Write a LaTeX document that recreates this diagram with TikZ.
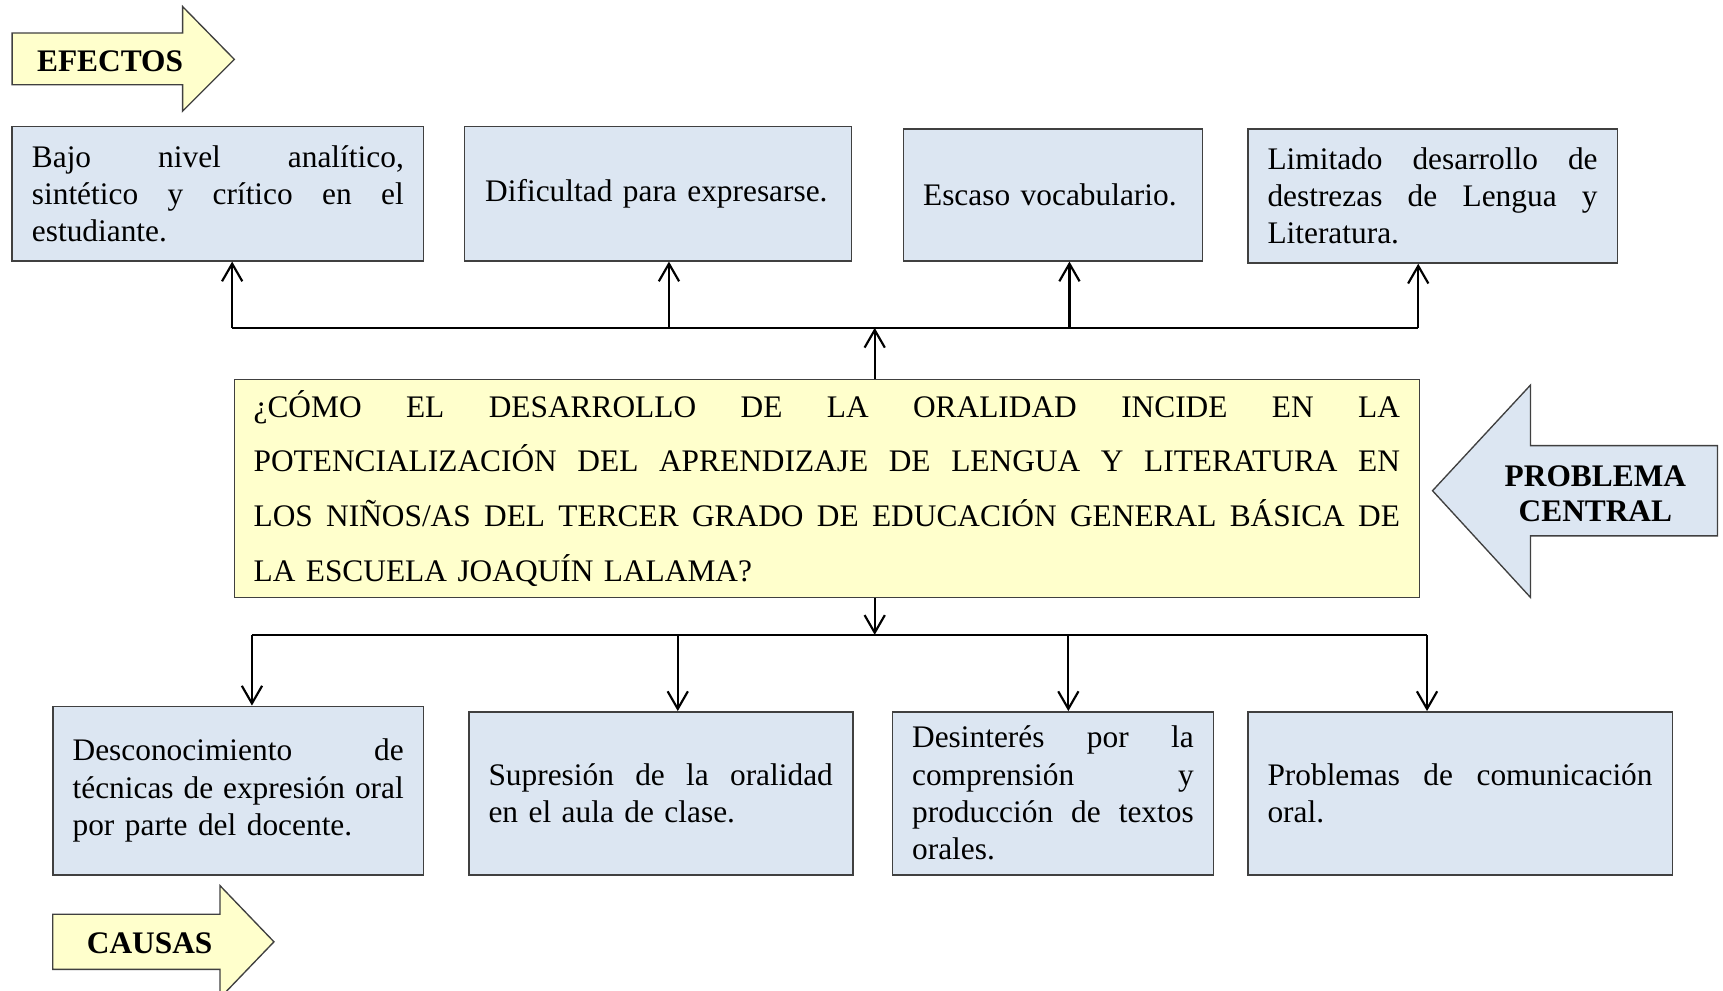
\documentclass[tikz,border=0pt]{standalone}
\usepackage{fontspec}
\setmainfont{Liberation Serif}
\usetikzlibrary{arrows.meta}
\definecolor{boxblue}{HTML}{DCE6F2}
\definecolor{boxyellow}{HTML}{FFFFCC}
\definecolor{edgecol}{HTML}{404040}
\newlength\pxu
\setlength\pxu{0.0143cm}
\newcommand\jl[1]{\hbox to\hsize{\frenchspacing\spaceskip=0.25em plus 1fil minus 0.05em\relax #1}}
\newcommand\lft[1]{\hbox to\hsize{\frenchspacing #1\hfil}}
\newcommand\lines[1]{\vbox{#1}}
\begin{document}
\begin{tikzpicture}[x=0.0143cm, y=-0.0143cm,
  box/.style={draw=edgecol, line width=0.6pt, fill=boxblue, inner sep=0pt,
    font=\fontsize{11.6pt}{13.8pt}\selectfont},
  qbox/.style={box, fill=boxyellow, font=\fontsize{11.6pt}{20.3pt}\selectfont},
  blockarrow/.style={draw=edgecol, line width=0.5pt},
  tag/.style={font=\fontsize{11.6pt}{13pt}\selectfont\bfseries, align=center, inner sep=0pt},
  arr/.style={line width=0.8pt, -{Straight Barb[length=6.5pt,width=7.5pt]}},
  bus/.style={line width=0.8pt}]
\useasboundingbox (0,0) rectangle (1566,900);

% block arrows
\draw[blockarrow, fill=boxyellow] (11,30) -- (166,30) -- (166,6) -- (213,54) -- (166,101) -- (166,77) -- (11,77) -- cycle;
\node[tag] (efectos) at (100,56) {EFECTOS};
\begin{scope}
\clip (0,0) rectangle (1566,900);
\draw[blockarrow, fill=boxyellow] (48,831) -- (200,831) -- (200,805) -- (249,856) -- (200,907) -- (200,881) -- (48,881) -- cycle;
\end{scope}
\node[tag] (causas) at (136,857) {CAUSAS};
\draw[blockarrow, fill=boxblue] (1561,405) -- (1391,405) -- (1391,350) -- (1302,446) -- (1391,543) -- (1391,487) -- (1561,487) -- cycle;
\node[tag] (problema) at (1450,449) {PROBLEMA\\CENTRAL};

% effects
\node[box, minimum width=374\pxu, minimum height=122\pxu, text width=338\pxu] (e1) at (198,176)
  {\lines{\jl{Bajo nivel analítico,}\jl{sintético y crítico en el}\lft{estudiante.}}};
\node[box, minimum width=352\pxu, minimum height=122\pxu, text width=314\pxu] (e2) at (598,176)
  {\lines{\lft{Dificultad para expresarse.}}};
\node[box, minimum width=272\pxu, minimum height=120\pxu, text width=236\pxu] (e3) at (957,177)
  {\lines{\lft{Escaso vocabulario.}}};
\node[box, minimum width=336\pxu, minimum height=122\pxu, text width=300\pxu] (e4) at (1302,178)
  {\lines{\jl{Limitado desarrollo de}\jl{destrezas de Lengua y}\lft{Literatura.}}};

% central problem
\node[qbox, minimum width=1077\pxu, minimum height=198\pxu, text width=1042\pxu] (q) at (751.5,444)
  {\lines{\jl{¿CÓMO EL DESARROLLO DE LA ORALIDAD INCIDE EN LA}%
   \jl{POTENCIALIZACIÓN DEL APRENDIZAJE DE LENGUA Y LITERATURA EN}%
   \jl{LOS NIÑOS/AS DEL TERCER GRADO DE EDUCACIÓN GENERAL BÁSICA DE}%
   \lft{LA ESCUELA JOAQUÍN LALAMA?}}};

% causes
\node[box, minimum width=337\pxu, minimum height=153\pxu, text width=301\pxu] (c1) at (216.5,718.5)
  {\lines{\jl{Desconocimiento de}\jl{técnicas de expresión oral}\lft{por parte del docente.}}};
\node[box, minimum width=349\pxu, minimum height=148\pxu, text width=313\pxu] (c2) at (600.5,721)
  {\lines{\jl{Supresión de la oralidad}\lft{en el aula de clase.}}};
\node[box, minimum width=292\pxu, minimum height=148\pxu, text width=256\pxu] (c3) at (957,721)
  {\lines{\jl{Desinterés por la}\jl{comprensión y}\jl{producción de textos}\lft{orales.}}};
\node[box, minimum width=386\pxu, minimum height=148\pxu, text width=350\pxu] (c4) at (1327,721)
  {\lines{\jl{Problemas de comunicación}\lft{oral.}}};

% connectors: effects
\coordinate (t1) at (211,298);
\coordinate (t2) at (608,298);
\coordinate (tm) at (795,298);
\coordinate (t3) at (972,298);
\coordinate (t4) at (1289,298);
\draw[bus] (t1) -- (t4);
\draw[arr] (tm |- q.north) -- (tm);
\draw[arr] (t1) -- (t1 |- e1.south);
\draw[arr] (t2) -- (t2 |- e2.south);
\draw[arr] (t3) -- (t3 |- e3.south);
\draw[arr] (t4) -- (t4 |- e4.south);

% connectors: causes
\coordinate (b1) at (229,577);
\coordinate (b2) at (616,577);
\coordinate (bm) at (795,577);
\coordinate (b3) at (971,577);
\coordinate (b4) at (1297,577);
\draw[bus] (b1) -- (b4);
\draw[arr] (bm |- q.south) -- (bm);
\draw[arr] (b1) -- (b1 |- c1.north);
\draw[arr] (b2) -- (b2 |- c2.north);
\draw[arr] (b3) -- (b3 |- c3.north);
\draw[arr] (b4) -- (b4 |- c4.north);
\end{tikzpicture}
\end{document}
